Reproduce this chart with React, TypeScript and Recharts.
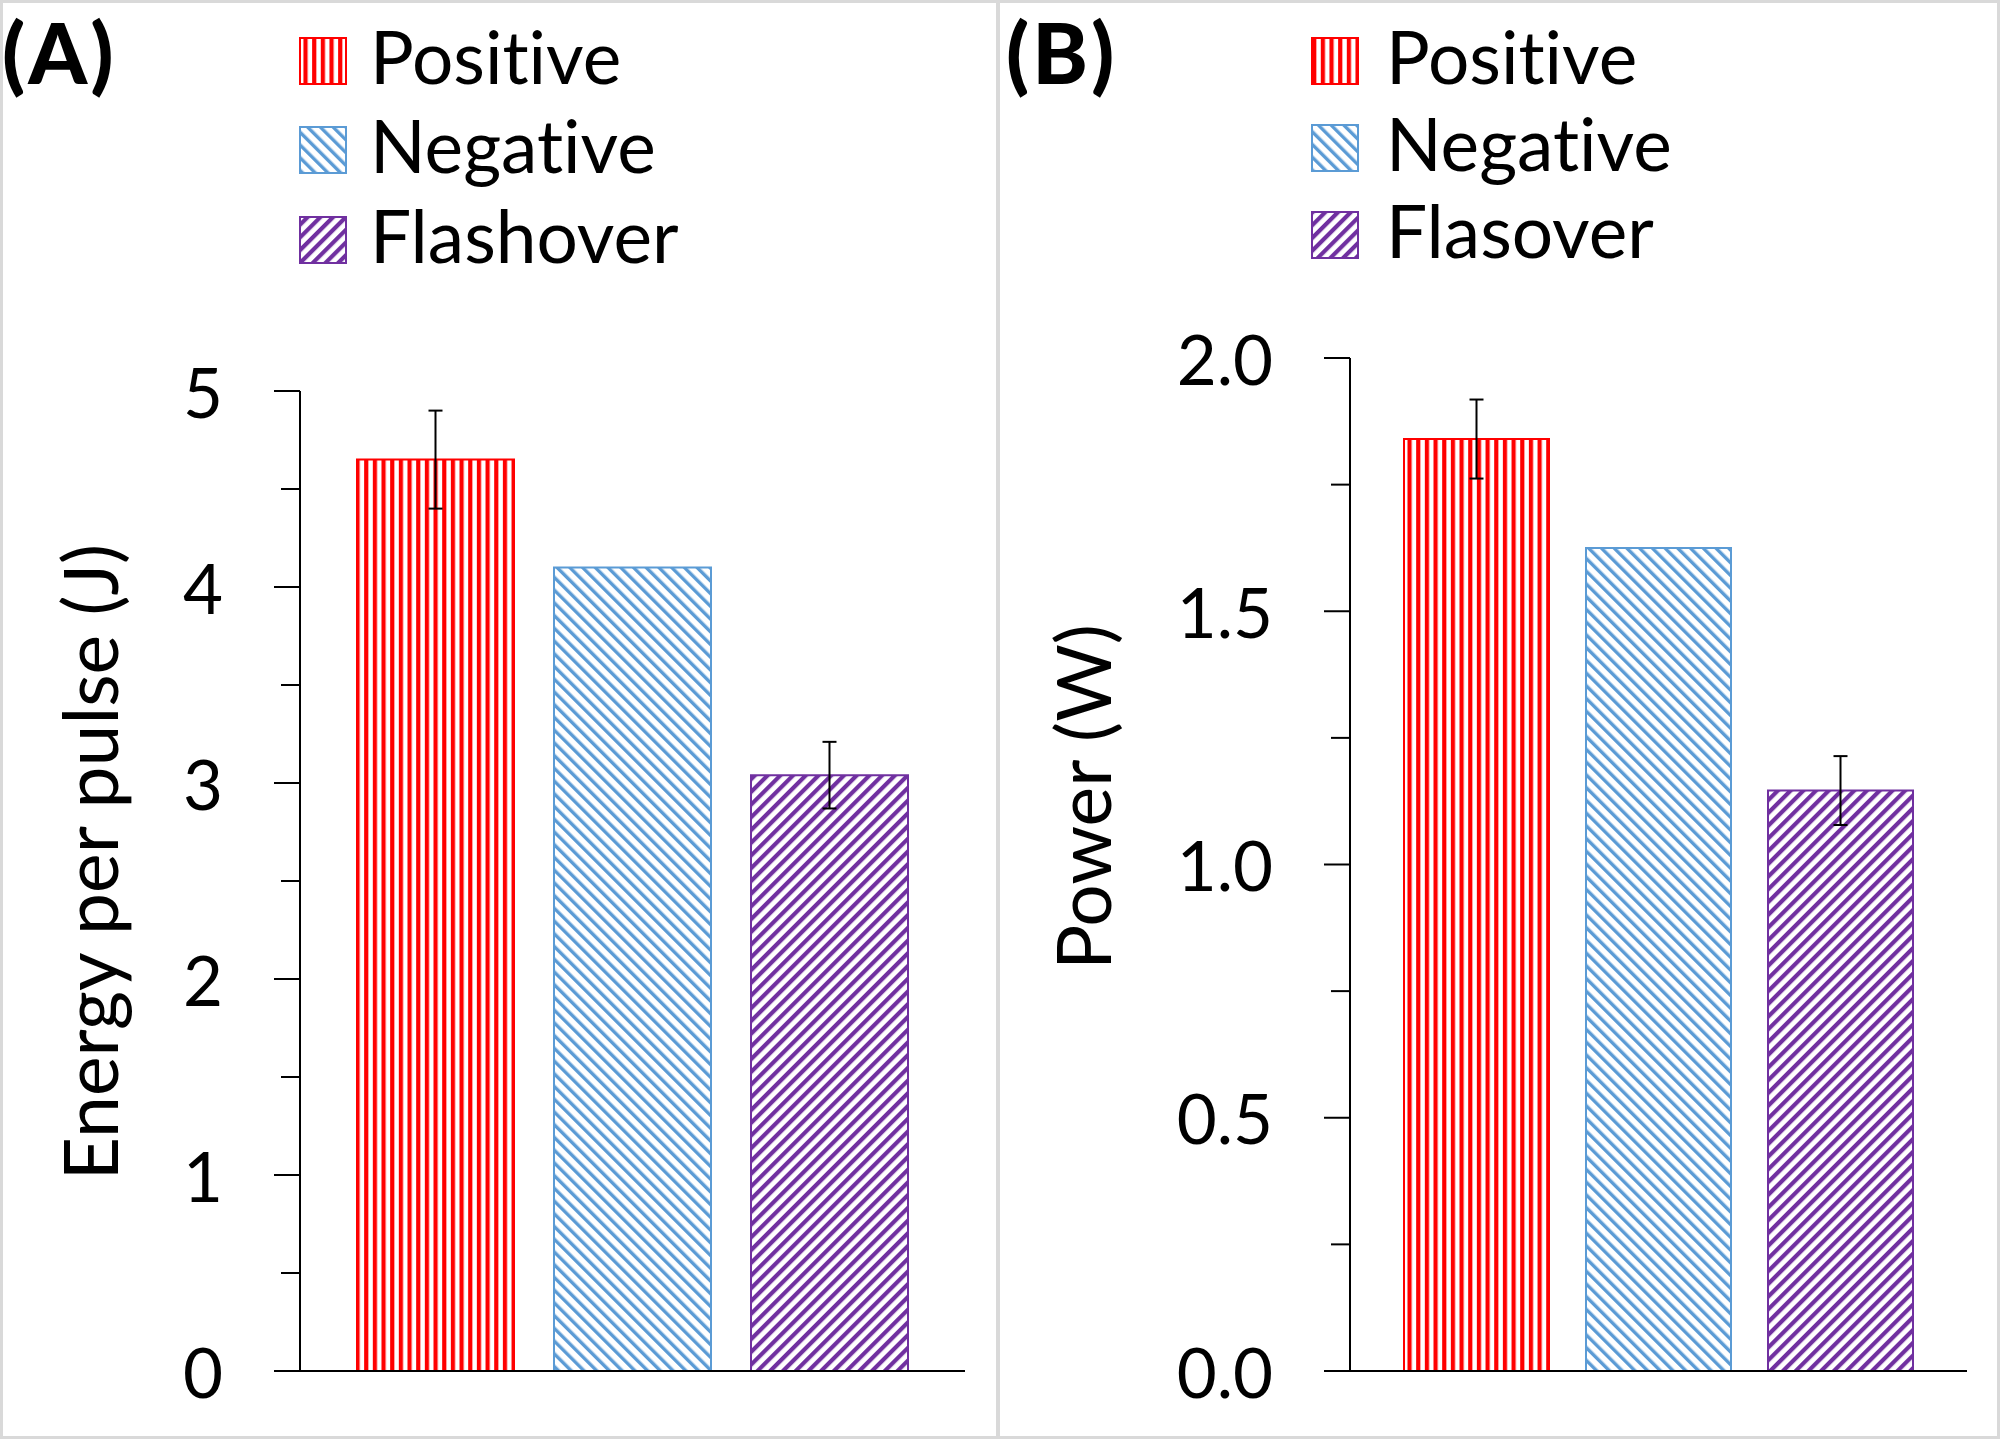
import React from 'react';
import { BarChart, Bar, XAxis, YAxis, ErrorBar } from 'recharts';

const FONT = 'Lato, "Open Sans", sans-serif';
const NO_LIGA = { fontVariantLigatures: 'none' as const };

// panel A: energy per pulse
const energyNames = ['Positive', 'Negative', 'Flashover'];
const energyValues = [4.65, 4.1, 3.04];
const energyErrors = [0.25, 0, 0.17];
const energyMajorTicks = [0, 1, 2, 3, 4, 5];
const energyMinorTicks = [0.5, 1.5, 2.5, 3.5, 4.5];

// panel B: power
const powerNames = ['Positive', 'Negative', 'Flasover'];
const powerValues = [1.84, 1.625, 1.146];
const powerErrors = [0.078, 0, 0.068];
const powerMajorTicks = [0, 0.5, 1.0, 1.5, 2.0];
const powerMinorTicks = [0.25, 0.75, 1.25, 1.75];

const seriesKeys = ['pos', 'neg', 'fla'];
const seriesColors = ['#FF0000', '#5B9BD5', '#7030A0'];

function Patterns({ prefix }: { prefix: string }) {
  return (
    <defs>
      <pattern id={`${prefix}-pos`} patternUnits="userSpaceOnUse" width={8.67} height={20}>
        <rect x={0} y={0} width={4.2} height={20} fill={seriesColors[0]} />
      </pattern>
      <pattern id={`${prefix}-neg`} patternUnits="userSpaceOnUse" width={9} height={20} patternTransform="rotate(-45)">
        <rect x={0} y={0} width={3.4} height={20} fill={seriesColors[1]} />
      </pattern>
      <pattern id={`${prefix}-fla`} patternUnits="userSpaceOnUse" width={9} height={20} patternTransform="rotate(45)">
        <rect x={0} y={0} width={4.2} height={20} fill={seriesColors[2]} />
      </pattern>
    </defs>
  );
}

type PanelProps = {
  letter: string;
  names: string[];
  values: number[];
  errors: number[];
  majorTicks: number[];
  minorTicks: number[];
  decimals: number;
  title: string;
  left: number;
  width: number;
  margin: { top: number; right: number; bottom: number; left: number };
  yAxisWidth: number;
  barSize: number;
  barGap: number;
  letterX: number;
  legendX: number;
  legendTextX: number;
  legendTops: number[];
  titleX: number;
  titleY: number;
};

function Panel(p: PanelProps) {
  const row: Record<string, number | string> = { name: p.letter };
  seriesKeys.forEach((k, i) => {
    row[k] = p.values[i];
    row[`${k}Err`] = p.errors[i];
  });
  const allTicks = [...p.majorTicks, ...p.minorTicks].sort((a, b) => a - b);
  const domainMax = p.majorTicks[p.majorTicks.length - 1];

  const renderTick = (props: any) => {
    const { x, y, payload } = props;
    const axisX = x + 77;
    const major = p.majorTicks.includes(payload.value);
    return (
      <g>
        <line x1={axisX - (major ? 26 : 19)} x2={axisX} y1={y} y2={y} stroke="#000" strokeWidth={2} />
        {major && (
          <text x={x} y={y} textAnchor="end" dominantBaseline="central" fontSize={69} fontFamily={FONT} fill="#000">
            {Number(payload.value).toFixed(p.decimals)}
          </text>
        )}
      </g>
    );
  };

  return (
    <div style={{ position: 'absolute', left: p.left, top: 0, width: p.width, height: 1439 }}>
      <BarChart width={p.width} height={1439} data={[row]} margin={p.margin} barSize={p.barSize} barGap={p.barGap}>
        <Patterns prefix={`${p.letter}-bar`} />
        <XAxis dataKey="name" tick={false} tickLine={false} axisLine={{ stroke: '#000', strokeWidth: 2 }} height={10} />
        <YAxis
          type="number"
          domain={[0, domainMax]}
          ticks={allTicks}
          interval={0}
          width={p.yAxisWidth}
          tick={renderTick}
          tickLine={false}
          tickSize={0}
          tickMargin={77}
          axisLine={{ stroke: '#000', strokeWidth: 2 }}
        />
        {seriesKeys.map((k, i) => (
          <Bar
            key={k}
            dataKey={k}
            fill={`url(#${p.letter}-bar-${k})`}
            stroke={seriesColors[i]}
            strokeWidth={2}
            isAnimationActive={false}
          >
            <ErrorBar dataKey={`${k}Err`} width={7} strokeWidth={2} stroke="#000" direction="y" />
          </Bar>
        ))}
      </BarChart>
      <svg width={p.width} height={1439} style={{ position: 'absolute', left: 0, top: 0, pointerEvents: 'none' }}>
        <Patterns prefix={`${p.letter}-leg`} />
        <text x={p.letterX} y={84} fontSize={84} fontWeight={900} letterSpacing={3} fontFamily={FONT} fill="#000">
          ({p.letter})
        </text>
        {p.names.map((n, i) => (
          <g key={n}>
            <rect
              x={p.legendX}
              y={p.legendTops[i]}
              width={46}
              height={46}
              fill={`url(#${p.letter}-leg-${seriesKeys[i]})`}
              stroke={seriesColors[i]}
              strokeWidth={2}
            />
            <text x={p.legendTextX} y={p.legendTops[i] + 46} fontSize={73} fontFamily={FONT} fill="#000" style={NO_LIGA}>
              {n}
            </text>
          </g>
        ))}
        <text
          x={p.titleX}
          y={p.titleY}
          transform={`rotate(-90 ${p.titleX} ${p.titleY})`}
          textAnchor="middle"
          dominantBaseline="central"
          fontSize={75}
          fontFamily={FONT}
          fill="#000"
          style={NO_LIGA}
        >
          {p.title}
        </text>
      </svg>
    </div>
  );
}

export default function App() {
  return (
    <div style={{ position: 'relative', width: 2000, height: 1439, background: '#fff', overflow: 'hidden' }}>
      <style>{'body{margin:0}'}</style>
      <Panel
        letter="A"
        names={energyNames}
        values={energyValues}
        errors={energyErrors}
        majorTicks={energyMajorTicks}
        minorTicks={energyMinorTicks}
        decimals={0}
        title="Energy per pulse (J)"
        left={0}
        width={996}
        margin={{ top: 391, right: 31, bottom: 58, left: 0 }}
        yAxisWidth={300}
        barSize={157}
        barGap={40}
        letterX={2}
        legendX={300}
        legendTextX={370}
        legendTops={[38, 127, 217]}
        titleX={89}
        titleY={862}
      />
      <Panel
        letter="B"
        names={powerNames}
        values={powerValues}
        errors={powerErrors}
        majorTicks={powerMajorTicks}
        minorTicks={powerMinorTicks}
        decimals={1}
        title="Power (W)"
        left={1000}
        width={1000}
        margin={{ top: 358, right: 33, bottom: 58, left: 0 }}
        yAxisWidth={350}
        barSize={145}
        barGap={37}
        letterX={6}
        legendX={312}
        legendTextX={386}
        legendTops={[38, 125, 212]}
        titleX={82}
        titleY={797}
      />
      <div style={{ position: 'absolute', left: 996, top: 0, width: 4, height: 1439, background: '#d9d9d9' }} />
      <div
        style={{
          position: 'absolute',
          inset: 0,
          border: '3px solid #d9d9d9',
          boxSizing: 'border-box',
          pointerEvents: 'none',
        }}
      />
    </div>
  );
}
